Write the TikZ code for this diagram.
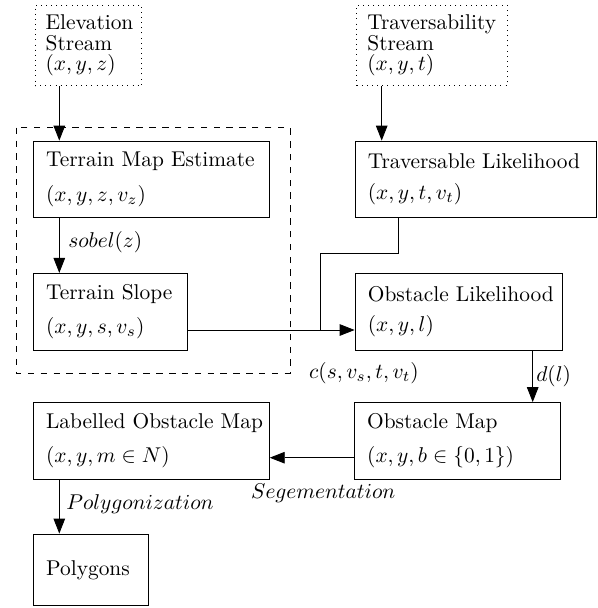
\documentclass[tikz,border=0pt]{standalone}
\usetikzlibrary{arrows.meta}
\tikzset{
  blk/.style={draw, inner xsep=6pt, inner ysep=0pt, align=left, minimum height=35.8pt},
  strm/.style={draw, dotted, inner xsep=5pt, inner ysep=0pt, align=left, minimum height=37.7pt},
  arr/.style={-{Triangle[length=7pt,width=5.4pt]}},
  lbl/.style={inner sep=0pt},
  grp/.style={dashed},
}
\begin{document}
\begin{tikzpicture}[x=0.4673pt,y=-0.4673pt]
\path[use as bounding box] (0,0) rectangle (597,608);

% streams
\node[strm, text width=39.9pt] (elev) at (88.35,45.35) {\mbox{Elevation}\\[-2.4pt]Stream\\[-2.4pt]$(x,y,z)$};
\node[strm, text width=60.4pt] (trav) at (432,45.35) {\mbox{Traversability}\\[-2.4pt]Stream\\[-2.4pt]$(x,y,t)$};

% group
\draw[grp] (16.7,127.7) rectangle (290,373.3);

% blocks
\node[blk, text width=98.3pt] (tme) at (151.3,179.35) {\mbox{Terrain Map Estimate}\\[4.1pt]$(x,y,z,v_z)$};
\node[blk, text width=100.6pt] (tl) at (475.5,179.35) {\mbox{Traversable Likelihood}\\[2.2pt]$(x,y,t,v_t)$};
\node[blk, text width=60.1pt] (ts) at (110.45,311.65) {\mbox{Terrain Slope}\\[4.1pt]$(x,y,s,v_s)$};
\node[blk, text width=84.7pt] (ol) at (458.5,311.65) {\mbox{Obstacle Likelihood}\\[2.2pt]$(x,y,l)$};
\node[blk, text width=98.3pt] (lom) at (151.3,440.85) {\mbox{Labelled Obstacle Map}\\[4.1pt]$(x,y,m\in N)$};
\node[blk, text width=84.4pt] (om) at (457.5,440.85) {\mbox{Obstacle Map}\\[4.1pt]$(x,y,b\in\{0,1\})$};
\node[blk, text width=41.6pt, minimum height=33.5pt] (poly) at (90.65,569.85) {Polygons};

% helper coordinates
\coordinate (ax) at (59.3,0);
\coordinate (bx) at (381.7,0);
\coordinate (cx) at (532.7,0);
\coordinate (dy) at (0,457.7);
\coordinate (jx) at (398.3,253.3);
\coordinate (jy) at (320.7,330);

% connectors
\draw[arr] (elev.south -| ax) -- (tme.north -| ax);
\draw[arr] (trav.south -| bx) -- (tl.north -| bx);
\draw[arr] (tme.south -| ax) -- node[lbl, pos=0.43, anchor=west, xshift=4pt] (lsobel) {$sobel(z)$} (ts.north -| ax);
\draw (tl.south -| jx) -- (jx) -- (jx -| jy) -- (jy);
\draw[arr] (ts.east |- jy) -- (ol.west |- jy);
\node[lbl] (lc) at (364,373) {$c(s,v_s,t,v_t)$};
\draw[arr] (ol.south -| cx) -- node[lbl, midway, anchor=west, xshift=1.5pt] (ld) {$d(l)$} (om.north -| cx);
\draw[arr] (om.west |- dy) -- node[lbl, pos=0.364, yshift=-16.7pt] (lseg) {$Segementation$} (lom.east |- dy);
\draw[arr] (lom.south -| ax) -- node[lbl, midway, anchor=west, xshift=3.1pt, yshift=1pt] (lpoly) {$Polygonization$} (poly.north -| ax);
\end{tikzpicture}
\end{document}
